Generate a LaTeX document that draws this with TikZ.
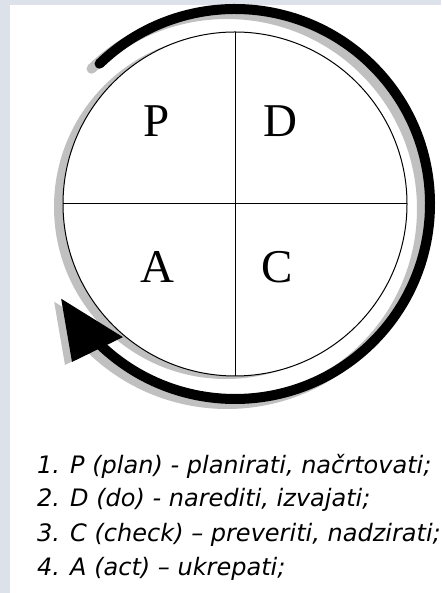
\documentclass[tikz,border=0pt]{standalone}
\usepackage{fontspec}
\setmainfont{Liberation Serif}
\newfontfamily\handfont{DejaVu Sans}
\usetikzlibrary{calc}
\definecolor{bgcol}{RGB}{221,225,234}
\definecolor{shadowgray}{RGB}{192,192,192}
\tikzset{
  letter/.style={font=\fontsize{47}{47}\selectfont, anchor=base, inner sep=0pt},
  listline/.style={font=\handfont\itshape\fontsize{24}{24}\selectfont, anchor=base west, inner sep=0pt},
  thinline/.style={line width=1pt, black},
  cyclearc/.style={line width=10pt, line cap=round},
}
\begin{document}
\begin{tikzpicture}[x=1pt,y=1pt]
\useasboundingbox (0,0) rectangle (441,593);
\fill[bgcol] (0,0) rectangle (441,593);
\fill[white] (10,0) rectangle (441,588);
\coordinate (C) at (235,389);
% inner circle with shadow
\fill[shadowgray] ($(C)+(-9,-3)$) circle[radius=172];
\fill[white] (C) circle[radius=172];
\draw[thinline] (C) circle[radius=172];
\coordinate (W) at ($(C)+(-172,0)$);
\coordinate (E) at ($(C)+(172,0)$);
\coordinate (N) at ($(C)+(0,172)$);
\coordinate (S) at ($(C)+(0,-172)$);
\draw[thinline] (W) -- (E);
\draw[thinline] (N) -- (S);
% cycle arrow shadow
\begin{scope}[shadowgray]
\draw[cyclearc] ($(C)+(-8,-5)+(134:195)$) arc[start angle=134, end angle=-134, radius=195];
\fill ($(C)+(-7,-3)+(208.6:198)$) -- ($(C)+(-7,-3)+(224.1:227)$) -- ($(C)+(-7,-3)+(229.9:174)$) -- cycle;
\end{scope}
% cycle arrow
\draw[cyclearc, black] ($(C)+(134:195)$) coordinate (arcstart) arc[start angle=134, end angle=-134, radius=195] coordinate (arcend);
\fill[black] ($(C)+(208.6:198)$) coordinate (tip) -- ($(C)+(224.1:227)$) -- ($(C)+(229.9:174)$) -- cycle;
% letters
\node[letter] (P) at (157,456) {P};
\node[letter] (D) at (280,456) {D};
\node[letter] (A) at (157,310) {A};
\node[letter] (Cc) at (277,310) {C};
% list
\node[listline] (l1) at (37,119) {1. P (plan) - planirati, načrtovati;};
\node[listline] (l2) at (37,86) {2. D (do) - narediti, izvajati;};
\node[listline] (l3) at (37,51) {3. C (check) – preveriti, nadzirati;};
\node[listline] (l4) at (37,17) {4. A (act) – ukrepati;};
\end{tikzpicture}
\end{document}
